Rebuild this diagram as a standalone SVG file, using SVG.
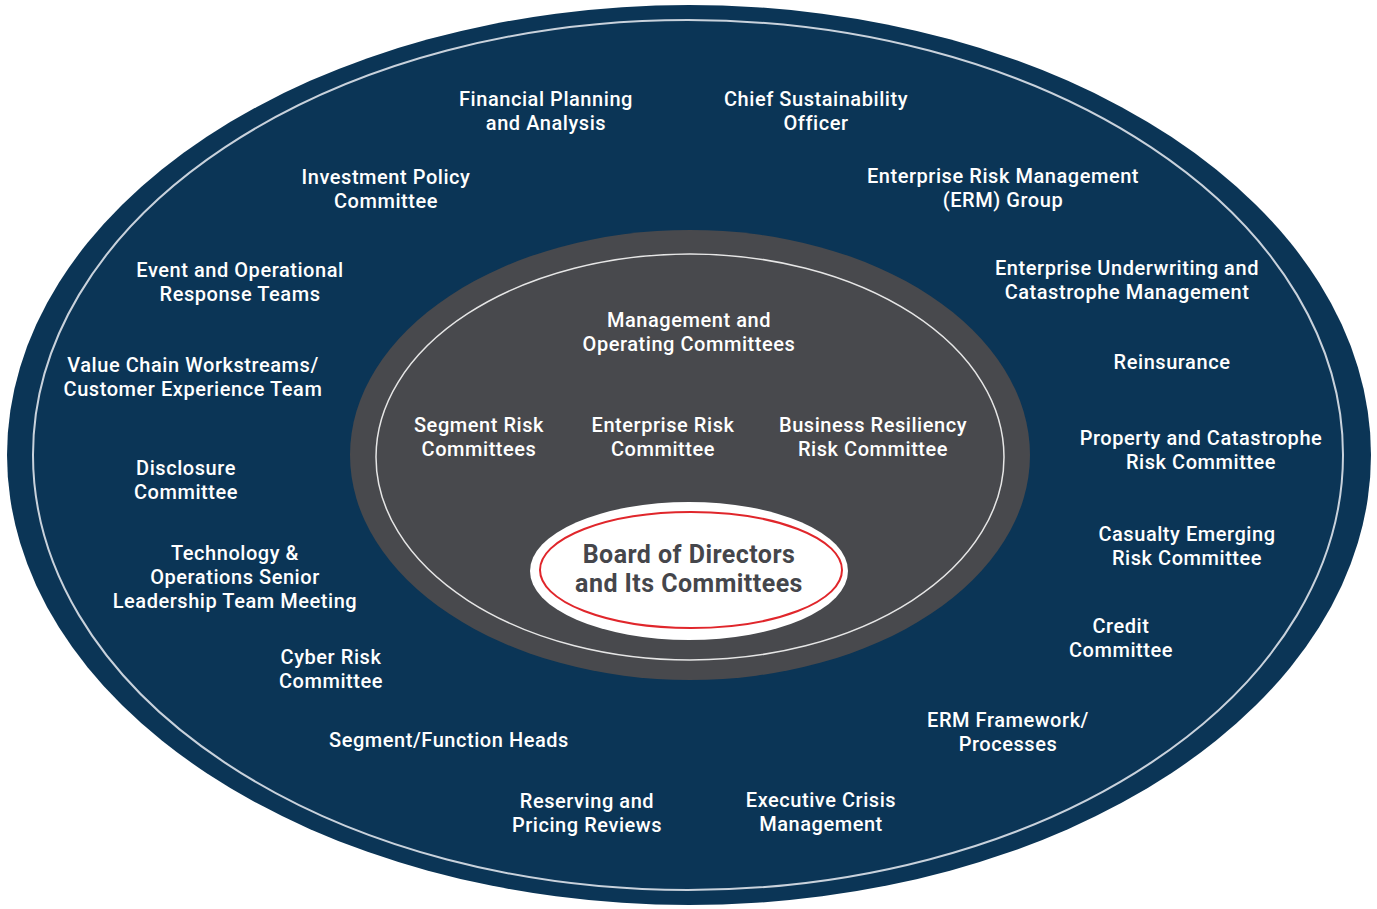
<svg xmlns="http://www.w3.org/2000/svg" width="1377" height="909" viewBox="0 0 1377 909">
<style>
.t{font-family:Roboto,"Noto Sans",sans-serif;font-size:20px;font-weight:500;fill:#ffffff;text-anchor:middle;letter-spacing:0.55px}
.b{font-family:Roboto,"Noto Sans",sans-serif;font-size:25px;font-weight:700;fill:#45464b;text-anchor:middle;letter-spacing:0.45px}
</style>
<rect width="1377" height="909" fill="#ffffff"/>
<g id="outer">
<ellipse cx="689" cy="455" rx="682" ry="450" fill="#0b3556"/>
<ellipse cx="688" cy="455" rx="655" ry="435" fill="none" stroke="#c9d2dc" stroke-width="2"/>
</g>
<g id="middle">
<ellipse cx="690" cy="455" rx="340" ry="225" fill="#48494d"/>
<ellipse cx="690" cy="457" rx="314" ry="203" fill="none" stroke="#e6e6e6" stroke-width="1.5"/>
</g>
<g id="board">
<ellipse cx="689" cy="571" rx="159" ry="69" fill="#ffffff"/>
<ellipse cx="691" cy="570" rx="151" ry="58" fill="none" stroke="#e0262b" stroke-width="2"/>
<text class="b" x="689" y="563"><tspan x="689">Board of Directors</tspan><tspan x="689" dy="29">and Its Committees</tspan></text>
</g>
<g id="connectors"></g>
<g id="n1"><text class="t" x="546" y="106"><tspan x="546">Financial Planning</tspan><tspan x="546" dy="24">and Analysis</tspan></text></g>
<g id="n2"><text class="t" x="816" y="106"><tspan x="816">Chief Sustainability</tspan><tspan x="816" dy="24">Officer</tspan></text></g>
<g id="n3"><text class="t" x="386" y="184"><tspan x="386">Investment Policy</tspan><tspan x="386" dy="23.5">Committee</tspan></text></g>
<g id="n4"><text class="t" x="1003" y="183"><tspan x="1003">Enterprise Risk Management</tspan><tspan x="1003" dy="24">(ERM) Group</tspan></text></g>
<g id="n5"><text class="t" x="240" y="277"><tspan x="240">Event and Operational</tspan><tspan x="240" dy="24">Response Teams</tspan></text></g>
<g id="n6"><text class="t" x="1127" y="275"><tspan x="1127">Enterprise Underwriting and</tspan><tspan x="1127" dy="24">Catastrophe Management</tspan></text></g>
<g id="n7"><text class="t" x="193" y="372"><tspan x="193">Value Chain Workstreams/</tspan><tspan x="193" dy="24">Customer Experience Team</tspan></text></g>
<g id="n8"><text class="t" x="1172" y="369">Reinsurance</text></g>
<g id="n9"><text class="t" x="1201" y="445"><tspan x="1201">Property and Catastrophe</tspan><tspan x="1201" dy="23.5">Risk Committee</tspan></text></g>
<g id="n10"><text class="t" x="186" y="475"><tspan x="186">Disclosure</tspan><tspan x="186" dy="24">Committee</tspan></text></g>
<g id="n11"><text class="t" x="1187" y="541"><tspan x="1187">Casualty Emerging</tspan><tspan x="1187" dy="23.5">Risk Committee</tspan></text></g>
<g id="n12"><text class="t" x="235" y="560"><tspan x="235">Technology &amp;</tspan><tspan x="235" dy="24">Operations Senior</tspan><tspan x="235" dy="23.5">Leadership Team Meeting</tspan></text></g>
<g id="n13"><text class="t" x="1121" y="633"><tspan x="1121">Credit</tspan><tspan x="1121" dy="23.5">Committee</tspan></text></g>
<g id="n14"><text class="t" x="331" y="664"><tspan x="331">Cyber Risk</tspan><tspan x="331" dy="23.5">Committee</tspan></text></g>
<g id="n15"><text class="t" x="1008" y="727"><tspan x="1008">ERM Framework/</tspan><tspan x="1008" dy="23.5">Processes</tspan></text></g>
<g id="n16"><text class="t" x="449" y="747">Segment/Function Heads</text></g>
<g id="n17"><text class="t" x="587" y="808"><tspan x="587">Reserving and</tspan><tspan x="587" dy="24">Pricing Reviews</tspan></text></g>
<g id="n18"><text class="t" x="821" y="807"><tspan x="821">Executive Crisis</tspan><tspan x="821" dy="24">Management</tspan></text></g>
<g id="n19"><text class="t" x="689" y="327"><tspan x="689">Management and</tspan><tspan x="689" dy="23.5">Operating Committees</tspan></text></g>
<g id="n20"><text class="t" x="479" y="432"><tspan x="479">Segment Risk</tspan><tspan x="479" dy="24">Committees</tspan></text></g>
<g id="n21"><text class="t" x="663" y="432"><tspan x="663">Enterprise Risk</tspan><tspan x="663" dy="24">Committee</tspan></text></g>
<g id="n22"><text class="t" x="873" y="432"><tspan x="873">Business Resiliency</tspan><tspan x="873" dy="24">Risk Committee</tspan></text></g>
</svg>
